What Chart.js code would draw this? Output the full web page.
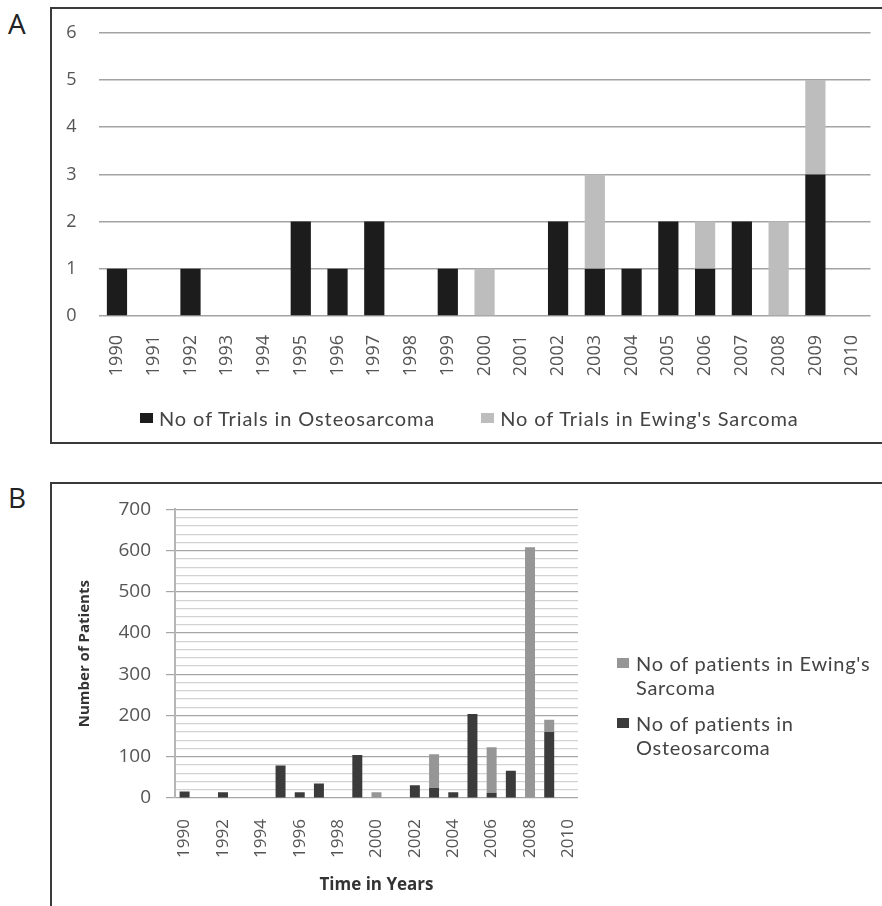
<!DOCTYPE html>
<html>
<head>
<meta charset="utf-8">
<script src="https://cdn.jsdelivr.net/npm/chart.js@4.4.0/dist/chart.umd.min.js"></script>
<style>
  body { margin: 0; background: #fff; }
  #page { position: relative; width: 882px; height: 906px; overflow: hidden; font-family: Lato, sans-serif; }
  .frame { position: absolute; border: 2px solid #3a3a3a; box-sizing: border-box; }
  #frameA { left: 50px; top: 7px; width: 840px; height: 437px; border-right: none; }
  #frameB { left: 50px; top: 482px; width: 840px; height: 440px; border-right: none; border-bottom: none; }
  .panel { position: absolute; font-size: 28px; color: #222; font-family: "Open Sans", sans-serif; }
  .wrap { position: absolute; left: 0; }
  #wrapA { top: 0; width: 893px; height: 450px; }
  #wrapB { top: 483px; width: 882px; height: 423px; }
  .legend { position: absolute; font-family: Lato, sans-serif; color: #444; }
  #legendA { left: 140px; top: 406px; display: flex; gap: 46px; font-size: 20px; letter-spacing: 0.9px; line-height: 24px; white-space: nowrap; }
  #legendA .item { position: relative; padding-left: 19px; }
  #legendA .box { position: absolute; left: 0; top: 7px; width: 13px; height: 10px; }
  #legendB { left: 617px; top: 651px; font-size: 20px; letter-spacing: 0.7px; }
  #legendB .item { position: relative; padding-left: 19px; line-height: 24px; margin-bottom: 12px; width: 262px; }
  #legendB .box { position: absolute; left: 0; top: 7px; width: 12px; height: 10px; }
</style>
</head>
<body>
<div id="page">
  <div class="frame" id="frameA"></div>
  <div class="frame" id="frameB"></div>
  <div class="panel" style="left:8px;top:4px;">A</div>
  <div class="panel" style="left:8px;top:478px;">B</div>
  <div class="wrap" id="wrapA"><canvas id="chartA"></canvas></div>
  <div class="wrap" id="wrapB"><canvas id="chartB"></canvas></div>
  <div class="legend" id="legendA"></div>
  <div class="legend" id="legendB"></div>
</div>
<script>
// years on both charts
const years = ["1990", "1991", "1992", "1993", "1994", "1995", "1996", "1997", "1998", "1999", "2000",
  "2001", "2002", "2003", "2004", "2005", "2006", "2007", "2008", "2009", "2010"];

// A: number of trials
const trialsOsteo = [1, 0, 1, 0, 0, 2, 1, 2, 0, 1, 0, 0, 2, 1, 1, 2, 1, 2, 0, 3, 0];
const trialsEwing = [0, 0, 0, 0, 0, 0, 0, 0, 0, 0, 1, 0, 0, 2, 0, 0, 1, 0, 2, 2, 0];
const trialTicks = [0, 1, 2, 3, 4, 5, 6];

// B: number of patients
const patientsOsteo = [16, 0, 14, 0, 0, 79, 14, 35, 0, 104, 0, 0, 31, 24, 14, 204, 13, 66, 0, 160, 0];
const patientsEwing = [0, 0, 0, 0, 0, 0, 0, 0, 0, 0, 14, 0, 0, 82, 0, 0, 110, 0, 608, 30, 0];
const patientMax = 700;

const tickColor = "#555";

// ---------- chart A ----------
const chartA = new Chart(document.getElementById("chartA"), {
  type: "bar",
  data: {
    labels: years,
    datasets: [
      {
        label: "No of Trials in Osteosarcoma",
        data: trialsOsteo,
        backgroundColor: "#1c1c1c",
        barPercentage: 0.55,
        categoryPercentage: 1,
      },
      {
        label: "No of Trials in Ewing's Sarcoma",
        data: trialsEwing,
        backgroundColor: "#bdbdbd",
        barPercentage: 0.55,
        categoryPercentage: 1,
      },
    ],
  },
  options: {
    responsive: true,
    maintainAspectRatio: false,
    animation: false,
    layout: { padding: { left: 0, right: 11, top: 32, bottom: 34 } },
    plugins: {
      tooltip: { enabled: false },
      legend: { display: false },
    },
    scales: {
      x: {
        stacked: true,
        grid: { display: false, drawTicks: false },
        border: { display: false },
        ticks: {
          color: tickColor,
          font: { family: "Open Sans", size: 18 },
          minRotation: 90,
          maxRotation: 90,
          autoSkip: false,
          padding: 19,
        },
        afterFit: (scale) => { scale.height = 100; },
      },
      y: {
        stacked: true,
        min: trialTicks[0],
        max: trialTicks[trialTicks.length - 1],
        grid: { color: "#a3a3a3", lineWidth: 1.5, drawTicks: false },
        border: { display: false },
        ticks: {
          stepSize: 1,
          color: tickColor,
          font: { family: "Open Sans", size: 18 },
          padding: 22,
        },
        afterFit: (scale) => { scale.width = 98.6; },
      },
    },
  },
});

// ---------- chart B ----------
const chartB = new Chart(document.getElementById("chartB"), {
  type: "bar",
  data: {
    labels: years,
    datasets: [
      {
        label: "No of patients in Osteosarcoma",
        data: patientsOsteo,
        backgroundColor: "#3b3b3b",
        barPercentage: 0.52,
        categoryPercentage: 1,
      },
      {
        label: "No of patients in Ewing's Sarcoma",
        data: patientsEwing,
        backgroundColor: "#969696",
        barPercentage: 0.52,
        categoryPercentage: 1,
      },
    ],
  },
  options: {
    responsive: true,
    maintainAspectRatio: false,
    animation: false,
    layout: { padding: { left: 72, right: 304, top: 26, bottom: 7 } },
    plugins: {
      tooltip: { enabled: false },
      legend: { display: false },
    },
    scales: {
      x: {
        stacked: true,
        grid: { display: false, drawTicks: false },
        border: { display: false },
        ticks: {
          color: tickColor,
          font: { family: "Open Sans", size: 17 },
          minRotation: 90,
          maxRotation: 90,
          autoSkip: false,
          padding: 21,
          callback: function (val, i) {
            return i % 2 === 0 ? this.getLabelForValue(val) : "";
          },
        },
        title: {
          display: true,
          text: "Time in Years",
          color: "#333",
          font: { family: "Open Sans", size: 17, weight: "bold" },
        },
        afterFit: (scale) => { scale.height = 101; },
      },
      y: {
        stacked: true,
        min: 0,
        max: patientMax,
        grid: {
          color: (c) => (c.tick && c.tick.value % 100 === 0 ? "#a6a6a6" : "#d2d2d2"),
          tickColor: (c) => (c.tick && c.tick.value % 100 === 0 ? "#a6a6a6" : "rgba(0,0,0,0)"),
          lineWidth: 1.2,
          tickLength: 9,
        },
        border: { display: true, color: "#b5b5b5", width: 2 },
        ticks: {
          stepSize: 20,
          autoSkip: false,
          color: tickColor,
          font: { family: "Open Sans", size: 19 },
          padding: 15,
          callback: (v) => (v % 100 === 0 ? v : ""),
        },
        title: {
          display: true,
          text: "Number of Patients",
          color: "#333",
          font: { family: "Open Sans", size: 15, weight: "bold" },
        },
        afterFit: (scale) => { scale.width = 103; },
      },
    },
  },
});

// html legends built from the datasets
function addItem(box, color, html) {
  const item = document.createElement("div");
  item.className = "item";
  item.innerHTML = '<span class="box" style="background:' + color + '"></span>' + html;
  box.appendChild(item);
}

const legendA = document.getElementById("legendA");
chartA.data.datasets.forEach((ds) => addItem(legendA, ds.backgroundColor, ds.label));

// B labels wrap onto two lines, Ewing listed first
const legendB = document.getElementById("legendB");
const legendOrder = [
  { ds: 1, lines: ["No of patients in Ewing's", "Sarcoma"] },
  { ds: 0, lines: ["No of patients in", "Osteosarcoma"] },
];
legendOrder.forEach((entry) => {
  const ds = chartB.data.datasets[entry.ds];
  addItem(legendB, ds.backgroundColor, entry.lines.join("<br>"));
});
</script>
</body>
</html>
